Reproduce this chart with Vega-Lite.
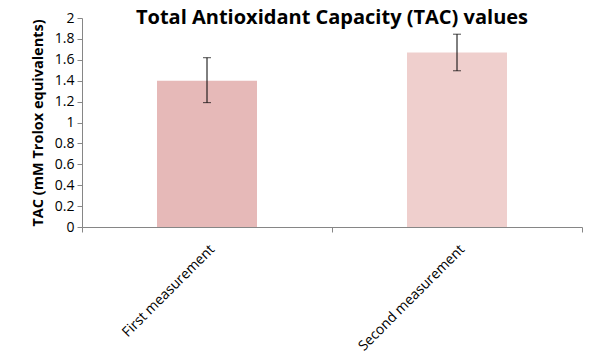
{
  "$schema": "https://vega.github.io/schema/vega-lite/v6.json",
  "width": 500,
  "height": 209,
  "autosize": {"type": "none"},
  "padding": {"left": 82, "top": 18, "right": 18, "bottom": 133},
  "background": "white",
  "title": {
    "text": "Total Antioxidant Capacity (TAC) values",
    "font": "Open Sans",
    "fontSize": 20,
    "fontWeight": "bold",
    "color": "#000000",
    "anchor": "middle",
    "offset": -17
  },
  "data": {
    "values": [
      {"group": "First measurement", "value": 1.40, "low": 1.19, "high": 1.62},
      {"group": "Second measurement", "value": 1.67, "low": 1.495, "high": 1.845}
    ]
  },
  "config": {
    "view": {"stroke": null},
    "font": "Open Sans",
    "axisY": {
      "grid": false,
      "labelOverlap": false,
      "titleFont": "Open Sans",
      "titleFontSize": 14.5,
      "titleFontWeight": "bold",
      "titleColor": "#000000",
      "titlePadding": 9,
      "labelFontSize": 14,
      "labelColor": "#000000",
      "labelPadding": 3,
      "domainColor": "#868686",
      "tickColor": "#868686",
      "tickSize": 5
    }
  },
  "encoding": {
    "x": {
      "field": "group",
      "type": "nominal",
      "sort": null,
      "scale": {"paddingInner": 0, "paddingOuter": 0},
      "axis": {
        "title": null,
        "labelAngle": -45,
        "labelAlign": "right",
        "labelBaseline": "top",
        "labelFontSize": 14,
        "labelColor": "#000000",
        "labelPadding": 10,
        "domainColor": "#868686",
        "tickColor": "#868686",
        "tickBand": "extent",
        "tickSize": 5
      }
    }
  },
  "layer": [
    {
      "mark": {"type": "bar", "width": {"band": 0.4}},
      "encoding": {
        "y": {
          "field": "value",
          "type": "quantitative",
          "scale": {"domain": [0, 2], "nice": false},
          "axis": {
            "values": [0, 0.2, 0.4, 0.6, 0.8, 1, 1.2, 1.4, 1.6, 1.8, 2],
            "format": "~g",
            "title": "TAC (mM Trolox equivalents)"
          }
        },
        "color": {
          "field": "group",
          "type": "nominal",
          "scale": {"domain": ["First measurement", "Second measurement"], "range": ["#e6b9b8", "#efcfcd"]},
          "legend": null
        }
      }
    },
    {
      "mark": {"type": "rule", "color": "#000000", "strokeWidth": 1},
      "encoding": {
        "y": {
          "field": "low",
          "type": "quantitative",
          "axis": {
            "values": [0, 0.2, 0.4, 0.6, 0.8, 1, 1.2, 1.4, 1.6, 1.8, 2],
            "format": "~g",
            "title": "TAC (mM Trolox equivalents)"
          }
        },
        "y2": {"field": "high"}
      }
    },
    {
      "mark": {"type": "tick", "color": "#000000", "thickness": 1, "size": 8},
      "encoding": {
        "y": {
          "field": "low",
          "type": "quantitative",
          "axis": {
            "values": [0, 0.2, 0.4, 0.6, 0.8, 1, 1.2, 1.4, 1.6, 1.8, 2],
            "format": "~g",
            "title": "TAC (mM Trolox equivalents)"
          }
        }
      }
    },
    {
      "mark": {"type": "tick", "color": "#000000", "thickness": 1, "size": 8},
      "encoding": {
        "y": {
          "field": "high",
          "type": "quantitative",
          "axis": {
            "values": [0, 0.2, 0.4, 0.6, 0.8, 1, 1.2, 1.4, 1.6, 1.8, 2],
            "format": "~g",
            "title": "TAC (mM Trolox equivalents)"
          }
        }
      }
    }
  ]
}
